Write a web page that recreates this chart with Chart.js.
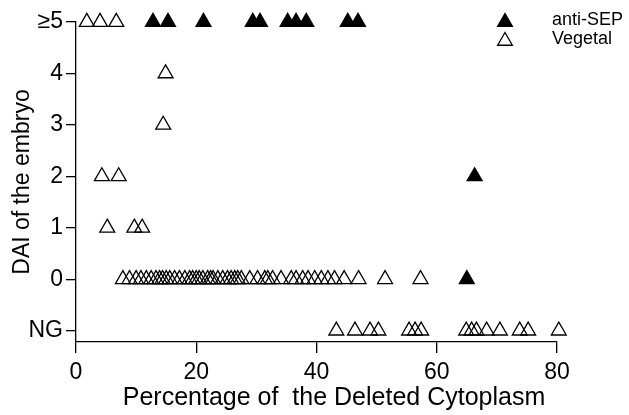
<!DOCTYPE html>
<html>
<head>
<meta charset="utf-8">
<script src="https://cdn.jsdelivr.net/npm/chart.js@4"></script>
<style>
  body { margin: 0; background: #fff; }
  #wrap { width: 629px; height: 415px; position: relative; }
</style>
</head>
<body>
<div id="wrap"><canvas id="daiChart"></canvas></div>
<script>
// y categories (NG plotted as -1, ">=5" as 5)
const daiValues = [-1, 0, 1, 2, 3, 4, 5];
const daiLabels = ['NG', '0', '1', '2', '3', '4', '≥5'];
const xTicks = [0, 20, 40, 60, 80];

// Vegetal embryos, % deleted cytoplasm per DAI level
const vegetalNG = [43.3, 46.4, 48.9, 50.3, 55.4, 56.4, 57.4, 64.9, 65.8, 66.6, 68.3, 70.5, 73.8, 75.2, 80.3];
const vegetal0 = [7.8, 8.9, 10.0, 10.8, 11.7, 12.5, 13.3, 13.9, 14.4, 15.0, 15.6, 16.4, 17.2, 18.1, 18.9, 19.4,
  20.0, 20.5, 21.1, 21.9, 22.4, 22.8, 23.6, 24.4, 25.2, 25.8, 26.4, 26.9, 27.5, 28.9, 30.2, 31.4, 31.9, 32.7,
  34.1, 35.8, 36.6, 37.7, 38.6, 39.7, 40.8, 41.9, 43.0, 44.6, 47.0, 51.4, 57.3];
const vegetal1 = [5.2, 9.7, 11.0];
const vegetal2 = [4.3, 7.1];
const vegetal3 = [14.5];
const vegetal4 = [14.9];
const vegetal5 = [1.8, 4.0, 6.7];

// anti-SEP embryos
const antiSep0 = [65.0];
const antiSep2 = [66.3];
const antiSep5 = [12.8, 15.3, 21.2, 29.4, 30.6, 35.2, 36.6, 38.3, 45.2, 46.9];

const FONT = "'Liberation Sans', Arial, sans-serif";
const X_TITLE = 'Percentage of  the Deleted Cytoplasm';

function pts(xs, y) {
  return xs.map(x => ({ x: x, y: y }));
}

const vegetalData = [].concat(
  pts(vegetalNG, -1), pts(vegetal0, 0), pts(vegetal1, 1), pts(vegetal2, 2),
  pts(vegetal3, 3), pts(vegetal4, 4), pts(vegetal5, 5)
);
const antiSepData = [].concat(pts(antiSep0, 0), pts(antiSep2, 2), pts(antiSep5, 5));

// legend inside the plot (top right) + x axis title, which sits a bit right of centre
const extras = {
  id: 'extras',
  afterDraw(chart) {
    const ctx = chart.ctx;
    const items = [
      { label: 'anti-SEP', fill: '#000' },
      { label: 'Vegetal', fill: 'rgba(0,0,0,0)' }
    ];
    ctx.save();
    ctx.font = '18px ' + FONT;
    ctx.textBaseline = 'middle';
    items.forEach((it, i) => {
      const y = 22 + i * 19;
      ctx.fillStyle = it.fill;
      ctx.strokeStyle = '#000';
      Chart.helpers.drawPoint(ctx, {
        pointStyle: 'triangle', radius: 8.5, borderWidth: 1.3
      }, 505, y);
      ctx.fillStyle = '#000';
      ctx.fillText(it.label, 552, y - 2);
    });

    ctx.font = '25px ' + FONT;
    ctx.textAlign = 'center';
    ctx.fillText(X_TITLE, 334, 398);
    ctx.restore();
  }
};

new Chart(document.getElementById('daiChart'), {
  type: 'scatter',
  data: {
    datasets: [
      {
        label: 'Vegetal',
        data: vegetalData,
        pointStyle: 'triangle',
        pointRadius: 8.6,
        pointHoverRadius: 8.6,
        borderColor: '#000',
        backgroundColor: 'rgba(0,0,0,0)',
        borderWidth: 1.3,
        clip: false
      },
      {
        label: 'anti-SEP',
        data: antiSepData,
        pointStyle: 'triangle',
        pointRadius: 8.6,
        pointHoverRadius: 8.6,
        borderColor: '#000',
        backgroundColor: '#000',
        borderWidth: 1.3,
        clip: false
      }
    ]
  },
  options: {
    responsive: true,
    maintainAspectRatio: false,
    animation: false,
    layout: { padding: { top: 22, right: 72, left: 0, bottom: 0 } },
    plugins: {
      legend: { display: false },
      tooltip: { enabled: false }
    },
    scales: {
      x: {
        type: 'linear',
        min: 0,
        max: 80,
        afterBuildTicks: s => { s.ticks = xTicks.map(v => ({ value: v })); },
        afterFit: s => { s.height = 73; },
        ticks: { color: '#000', font: { family: FONT, size: 23 }, padding: 6 },
        grid: { drawOnChartArea: false, tickLength: 11, color: '#000', lineWidth: 1.3 },
        border: { color: '#000', width: 1.3 }
      },
      y: {
        type: 'linear',
        min: -1.22,
        max: 5,
        afterBuildTicks: s => { s.ticks = daiValues.map(v => ({ value: v })); },
        afterFit: s => { s.width = 76; },
        ticks: {
          color: '#000',
          font: { family: FONT, size: 23 },
          padding: 3,
          callback: (v, i) => daiLabels[i]
        },
        grid: { drawOnChartArea: false, tickLength: 10, color: '#000', lineWidth: 1.3 },
        border: { color: '#000', width: 1.3 },
        title: {
          display: true,
          text: 'DAI of the embryo',
          color: '#000',
          font: { family: FONT, size: 23 },
          padding: { top: 9, bottom: 0 }
        }
      }
    }
  },
  plugins: [extras]
});
</script>
</body>
</html>
